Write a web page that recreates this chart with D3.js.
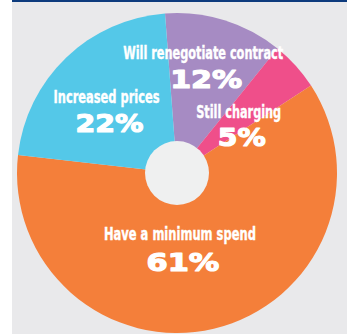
<!DOCTYPE html>
<html>
<head>
<meta charset="utf-8">
<script src="https://cdn.jsdelivr.net/npm/d3@7"></script>
<style>
  html, body { margin: 0; padding: 0; background: #fff; }
  svg { display: block; }
  .lbl { font-family: "DejaVu Sans", sans-serif; font-stretch: condensed; font-weight: bold; fill: #fff; stroke: #fff; stroke-width: 0.4; }
  .pct { font-family: "DejaVu Sans", sans-serif; font-weight: bold; fill: #fff; stroke: #fff; stroke-width: 1.2; stroke-linejoin: round; }
</style>
</head>
<body>
<script>
var categories = ["Will renegotiate contract", "Still charging", "Have a minimum spend", "Increased prices"];
var values = [12, 5, 61, 22];
var colors = ["#a68bc3", "#ef4f8a", "#f47f3a", "#54c8e8"];

function drawPie() {
    var w = 347, h = 334;
    var cx = 177, cy = 173, r = 160;

    var svg = d3.select("body")
                .append("svg")
                .attr("width", w)
                .attr("height", h);

    svg.append("rect")
        .attr("x", 12).attr("y", 0)
        .attr("width", w - 12).attr("height", h)
        .attr("fill", "#e9e9eb");

    svg.append("rect")
        .attr("x", 12).attr("y", 0)
        .attr("width", w - 12).attr("height", 2)
        .attr("fill", "#0d3b7d");

    var rows = categories.map(function(c, i) {
        return {name: c, value: values[i], color: colors[i]};
    });

    var start = -4.3 * Math.PI / 180;
    var pie = d3.pie()
                .sort(null)
                .startAngle(start)
                .endAngle(2 * Math.PI + start)
                .value(function(d) { return d.value; });

    var arc = d3.arc().innerRadius(0).outerRadius(r);

    var g = svg.append("g").attr("transform", "translate(" + cx + "," + cy + ")");

    var arcs = pie(rows);

    g.selectAll("path")
        .data(arcs)
        .enter()
        .append("path")
        .attr("d", arc)
        .attr("fill", function(d) { return d.data.color; });

    g.append("circle")
        .attr("r", 32)
        .attr("fill", "#eff0f0");

    // hand placed like the print: radius, angle shift, widths of the two lines
    var labelPos = [
        {r: 103, da: -0.045, nw: 160, pw: 72, gap: 15},
        {r: 74, da: 0.15, nw: 85, pw: 48, gap: 14},
        {r: 81, da: 0.196, nw: 152, pw: 73, gap: 17},
        {r: 90, da: -0.133, nw: 106, pw: 68, gap: 15}
    ];

    function fit(sel, x, width) {
        var len = sel.node().getComputedTextLength();
        var s = width / len;
        sel.attr("x", 0)
           .attr("transform", "translate(" + x + ",0) scale(" + s + ",1)");
    }

    arcs.forEach(function(d, i) {
        var p = labelPos[i];
        var a = (d.startAngle + d.endAngle) / 2 + p.da;
        var x = Math.sin(a) * p.r;
        var y = -Math.cos(a) * p.r;
        var t1 = g.append("text")
            .attr("class", "lbl")
            .attr("y", y - 14)
            .attr("text-anchor", "middle")
            .attr("font-size", 18)
            .text(d.data.name);
        fit(t1, x, p.nw);
        var t2 = g.append("text")
            .attr("class", "pct")
            .attr("y", y + p.gap)
            .attr("text-anchor", "middle")
            .attr("font-size", 25)
            .text(d.data.value + "%");
        fit(t2, x + 3, p.pw);
    });
}

drawPie();
</script>
</body>
</html>
